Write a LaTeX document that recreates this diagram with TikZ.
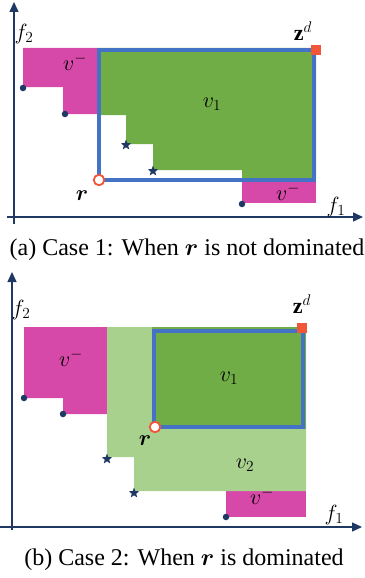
\RequirePackage{fix-cm}
\documentclass[tikz,border=0pt]{standalone}
\usepackage{amsmath,bm}
\usepackage{fontspec}
\setmainfont{Liberation Serif}
\definecolor{axisnavy}{RGB}{31,56,100}
\definecolor{vmagenta}{RGB}{214,73,168}
\definecolor{vgreen}{RGB}{112,173,71}
\definecolor{vlightgreen}{RGB}{169,209,142}
\definecolor{boxblue}{RGB}{68,114,196}
\definecolor{zred}{RGB}{242,86,56}
\usetikzlibrary{arrows.meta,shapes.geometric}

\begin{document}
\begin{tikzpicture}[x=1pt,y=-1pt,
  axisline/.style={axisnavy,line width=1.4pt,-{Triangle[length=10pt,width=9pt]}},
  sol/.style={circle,fill=axisnavy,inner sep=0pt,minimum size=6.5pt},
  refpt/.style={star,star points=5,star point ratio=2.4,fill=axisnavy,inner sep=0pt,minimum size=11pt},
  zpt/.style={rectangle,fill=zred,inner sep=0pt,minimum size=10pt},
  rpt/.style={circle,draw=zred,line width=1.8pt,fill=white,inner sep=0pt,minimum size=10.5pt},
  lab/.style={font=\fontsize{22}{26}\selectfont,inner sep=1pt},
  capt/.style={font=\fontsize{24}{28}\selectfont,anchor=base,inner sep=0pt},
  region/.style={line width=3.8pt,boxblue}]
  \useasboundingbox (0,0) rectangle (364,578);
  % (a) case 1
  \coordinate (ya) at (14,2);
  \coordinate (yao) at (14,224);
  \coordinate (xa) at (363,217);
  \coordinate (xao) at (7,217);
  \fill[vmagenta] (23,48) -| (98,114) -| (63,87) -| cycle;
  \fill[vmagenta] (242,180) rectangle (316,203);
  \fill[vgreen] (98,48) -| (316,180) -| (242,170) -| (153,144) -| (126,115) -| cycle;
  \draw[region] (99,50) rectangle (314,180);
  \draw[axisline] (yao) -- (ya);
  \draw[axisline] (xao) -- (xa);
  \node[sol] (pa1) at (23,88) {};
  \node[sol] (pa2) at (65,114) {};
  \node[sol] (pa3) at (242,204) {};
  \node[refpt] (sa1) at (126,145) {};
  \node[refpt] (sa2) at (153,171) {};
  \node[zpt] (za) at (316,50) {};
  \node[rpt] (ra) at (99,180) {};
  \node[lab] (f2a) at (24,34) {$f_2$};
  \node[lab] (f1a) at (336,207) {$f_1$};
  \node[lab] (zda) at (303,31) {$\mathbf{z}^d$};
  \node[lab] (rla) at (82,196) {$\bm{r}$};
  \node[lab] (vma1) at (75,62) {$v^-$};
  \node[lab] (vma2) at (288,192) {$v^-$};
  \node[lab] (v1a) at (212,104) {$v_1$};
  \node[capt] (capa) at (187,255) {(a) Case 1: When $\bm{r}$ is not dominated};
  % (b) case 2
  \coordinate (yb) at (12,272);
  \coordinate (ybo) at (12,530);
  \coordinate (xb) at (362,527);
  \coordinate (xbo) at (0,527);
  \fill[vmagenta] (24,327) -| (107,414) -| (63,398) -| cycle;
  \fill[vmagenta] (226,491) rectangle (306,517);
  \fill[vlightgreen] (107,327) -| (306,491) -| (134,457) -| cycle;
  \fill[vgreen] (152,327) rectangle (306,429);
  \draw[region] (154,331) rectangle (303,427);
  \draw[axisline] (ybo) -- (yb);
  \draw[axisline] (xbo) -- (xb);
  \node[sol] (pb1) at (24,398) {};
  \node[sol] (pb2) at (63,414) {};
  \node[sol] (pb3) at (226,517) {};
  \node[refpt] (sb1) at (107,459) {};
  \node[refpt] (sb2) at (134,493) {};
  \node[zpt] (zb) at (302,328) {};
  \node[rpt] (rb) at (155,427) {};
  \node[lab] (f2b) at (21,310) {$f_2$};
  \node[lab] (f1b) at (334,515) {$f_1$};
  \node[lab] (zdb) at (302,304) {$\mathbf{z}^d$};
  \node[lab] (rlb) at (145,441) {$\bm{r}$};
  \node[lab] (vmb1) at (71,358) {$v^-$};
  \node[lab] (vmb2) at (262,496) {$v^-$};
  \node[lab] (v1b) at (229,378) {$v_1$};
  \node[lab] (v2b) at (245,465) {$v_2$};
  \node[capt] (capb) at (184,565) {(b) Case 2: When $\bm{r}$ is dominated};
\end{tikzpicture}
\end{document}
